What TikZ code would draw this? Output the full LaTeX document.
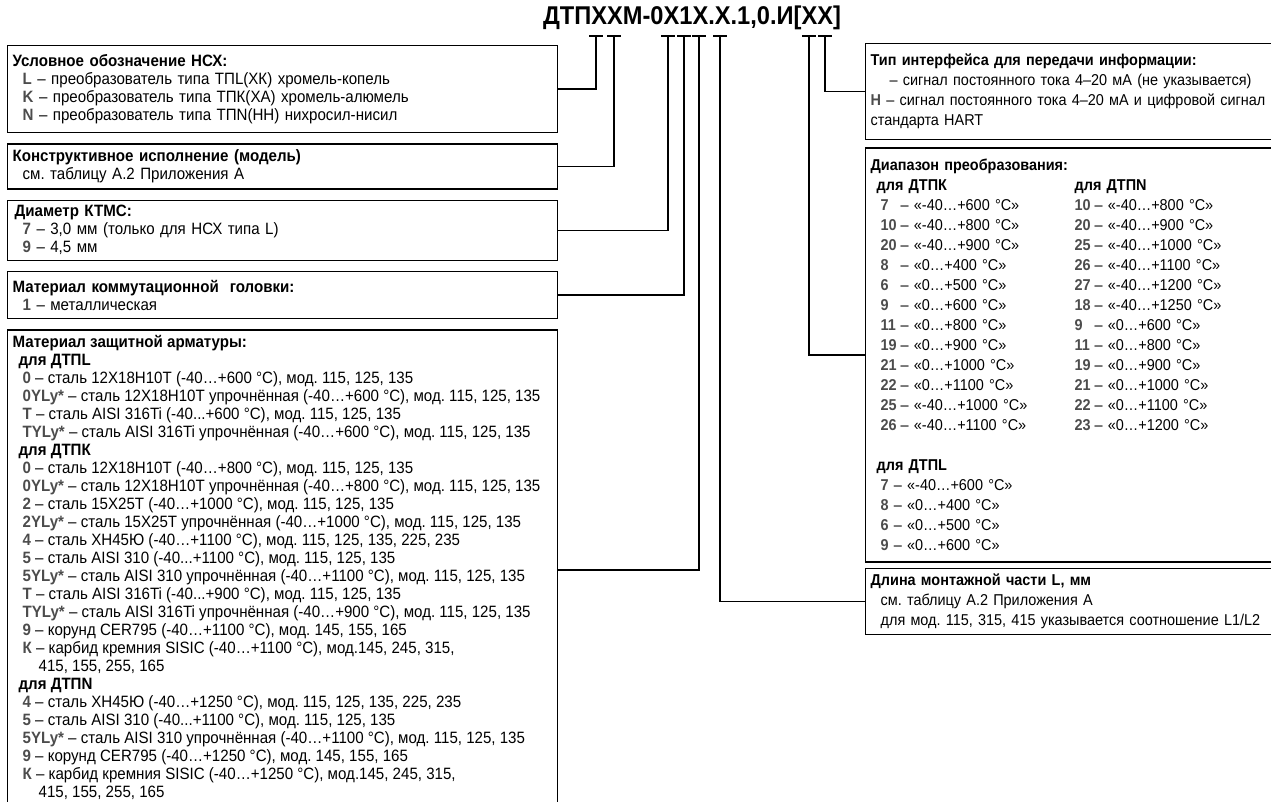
\documentclass[tikz,border=0pt]{standalone}
\usepackage{fontspec}
\setmainfont{Liberation Sans}[FakeStretch=0.92]
\usepackage{xcolor}
\usepackage{tikz}
\usetikzlibrary{positioning}

\frenchspacing
\definecolor{codegray}{gray}{0.3}
\newcommand\lfont{\fontsize{16.4}{18}\selectfont}
\newcommand\rfont{\fontsize{15.7}{20}\selectfont}
\newcommand\cd[1]{\textcolor{codegray}{\textbf{#1}}}
\newcommand\cdn[1]{\makebox[20pt][l]{\cd{#1}}}
\newcommand\ind{\hspace*{10pt}}
\newcommand\grp{\hspace*{6pt}}

\begin{document}
\begin{tikzpicture}[x=1pt, y=-1pt,
  box/.style={draw, line width=1.3pt, anchor=north west, inner xsep=5pt, inner ysep=0pt,
              align=left, text width=#1, font=\lfont},
  box/.default=540pt,
  rbox/.style={box=410pt, font=\rfont},
  wire/.style={line width=1.3pt},
  tick/.style={line width=1.3pt},
]
  \useasboundingbox (0,0) rectangle (1271,802);
  \clip (0,0) rectangle (1271,802);

  \node[font=\bfseries\fontsize{25.7}{28}\selectfont] (code) at (692,18) {ДТПXXM-0X1X.X.1,0.И[XX]};

  \foreach \i/\x in {1/596,2/614,3/668,4/684,5/699,6/720,7/809,8/825} {
    \coordinate (t\i) at (\x,36);
    \draw[tick] ([xshift=-7pt]t\i) -- ([xshift=7pt]t\i);
  }

  % left column
  \node[box, minimum height=87pt] (nsx) at (7,45) {\textbf{Условное обозначение НСХ:}\\
    \ind\cd{L} – преобразователь типа ТПL(ХК) хромель-копель\\
    \ind\cd{K} – преобразователь типа ТПК(ХА) хромель-алюмель\\
    \ind\cd{N} – преобразователь типа ТПN(НН) нихросил-нисил};
  \node[box, minimum height=45pt, below right=10pt and 0pt of nsx.south west] (model)
    {\textbf{Конструктивное исполнение (модель)}\\
    \ind см. таблицу А.2 Приложения А};
  \node[box, minimum height=60pt, below right=10pt and 0pt of model.south west] (dia)
    {\hspace*{2pt}\textbf{Диаметр КТМС:}\\
    \ind\cd{7} – 3,0 мм (только для НСХ типа L)\\
    \ind\cd{9} – 4,5 мм};
  \node[box, minimum height=47pt, below right=10pt and 0pt of dia.south west] (head)
    {\textbf{Материал коммутационной\ \ головки:}\\
    \ind\cd{1} – металлическая};
  \node[draw, line width=1.3pt, anchor=north west, inner sep=5pt, minimum height=480pt,
        font=\lfont, below right=10pt and 0pt of head.south west] (arm)
    {\parbox[t][470pt][t]{540pt}{\raggedright
    \textbf{Материал защитной арматуры:}\\
    \grp\textbf{для ДТПL}\\
    \ind\cd{0} – сталь 12Х18Н10Т (-40…+600 °С), мод. 115, 125, 135\\
    \ind\cd{0YLy*} – сталь 12Х18Н10Т упрочнённая (-40…+600 °С), мод. 115, 125, 135\\
    \ind\cd{T} – сталь AISI 316Ti (-40...+600 °C), мод. 115, 125, 135\\
    \ind\cd{TYLy*} – сталь AISI 316Ti упрочнённая (-40…+600 °C), мод. 115, 125, 135\\
    \grp\textbf{для ДТПК}\\
    \ind\cd{0} – сталь 12Х18Н10Т (-40…+800 °С), мод. 115, 125, 135\\
    \ind\cd{0YLy*} – сталь 12Х18Н10Т упрочнённая (-40…+800 °С), мод. 115, 125, 135\\
    \ind\cd{2} – сталь 15Х25Т (-40…+1000 °С), мод. 115, 125, 135\\
    \ind\cd{2YLy*} – сталь 15Х25Т упрочнённая (-40…+1000 °С), мод. 115, 125, 135\\
    \ind\cd{4} – сталь ХН45Ю (-40…+1100 °С), мод. 115, 125, 135, 225, 235\\
    \ind\cd{5} – сталь AISI 310 (-40...+1100 °C), мод. 115, 125, 135\\
    \ind\cd{5YLy*} – сталь AISI 310 упрочнённая (-40…+1100 °C), мод. 115, 125, 135\\
    \ind\cd{T} – сталь AISI 316Ti (-40...+900 °C), мод. 115, 125, 135\\
    \ind\cd{TYLy*} – сталь AISI 316Ti упрочнённая (-40…+900 °C), мод. 115, 125, 135\\
    \ind\cd{9} – корунд CER795 (-40…+1100 °C), мод. 145, 155, 165\\
    \ind\cd{К} – карбид кремния SISIC (-40…+1100 °C), мод.145, 245, 315,\\
    \hspace*{26pt}415, 155, 255, 165\\
    \grp\textbf{для ДТПN}\\
    \ind\cd{4} – сталь ХН45Ю (-40…+1250 °С), мод. 115, 125, 135, 225, 235\\
    \ind\cd{5} – сталь AISI 310 (-40...+1100 °C), мод. 115, 125, 135\\
    \ind\cd{5YLy*} – сталь AISI 310 упрочнённая (-40…+1100 °C), мод. 115, 125, 135\\
    \ind\cd{9} – корунд CER795 (-40…+1250 °C), мод. 145, 155, 165\\
    \ind\cd{К} – карбид кремния SISIC (-40…+1250 °C), мод.145, 245, 315,\\
    \hspace*{26pt}415, 155, 255, 165}};

  % right column
  \node[rbox, minimum height=96pt] (iface) at (865,43)
    {\textbf{Тип интерфейса для передачи информации:}\\
    \hspace*{19pt}– сигнал постоянного тока 4–20 мА (не указывается)\\
    \cd{H} – сигнал постоянного тока 4–20 мА и цифровой сигнал\\
    стандарта HART};
  \node[rbox, minimum height=414pt, below right=7pt and 0pt of iface.south west] (range)
    {\textbf{Диапазон преобразования:}\\
    \grp\makebox[198pt][l]{\textbf{для ДТПК}}\textbf{для ДТПN}\\
    \ind\makebox[194pt][l]{\cdn{7}– «-40…+600 °C»}\cdn{10}– «-40…+800 °C»\\
    \ind\makebox[194pt][l]{\cdn{10}– «-40…+800 °C»}\cdn{20}– «-40…+900 °C»\\
    \ind\makebox[194pt][l]{\cdn{20}– «-40…+900 °C»}\cdn{25}– «-40…+1000 °C»\\
    \ind\makebox[194pt][l]{\cdn{8}– «0…+400 °C»}\cdn{26}– «-40…+1100 °C»\\
    \ind\makebox[194pt][l]{\cdn{6}– «0…+500 °C»}\cdn{27}– «-40…+1200 °C»\\
    \ind\makebox[194pt][l]{\cdn{9}– «0…+600 °C»}\cdn{18}– «-40…+1250 °C»\\
    \ind\makebox[194pt][l]{\cdn{11}– «0…+800 °C»}\cdn{9}– «0…+600 °C»\\
    \ind\makebox[194pt][l]{\cdn{19}– «0…+900 °C»}\cdn{11}– «0…+800 °C»\\
    \ind\makebox[194pt][l]{\cdn{21}– «0…+1000 °C»}\cdn{19}– «0…+900 °C»\\
    \ind\makebox[194pt][l]{\cdn{22}– «0…+1100 °C»}\cdn{21}– «0…+1000 °C»\\
    \ind\makebox[194pt][l]{\cdn{25}– «-40…+1000 °C»}\cdn{22}– «0…+1100 °C»\\
    \ind\makebox[194pt][l]{\cdn{26}– «-40…+1100 °C»}\cdn{23}– «0…+1200 °C»\\[20pt]
    \grp\textbf{для ДТПL}\\
    \ind\cd{7} – «-40…+600 °C»\\
    \ind\cd{8} – «0…+400 °C»\\
    \ind\cd{6} – «0…+500 °C»\\
    \ind\cd{9} – «0…+600 °C»};
  \node[rbox, minimum height=66pt, below right=5pt and 0pt of range.south west] (len)
    {\textbf{Длина монтажной части L, мм}\\
    \ind см. таблицу А.2 Приложения А\\
    \ind для мод. 115, 315, 415 указывается соотношение L1/L2};

  % connectors
  \draw[wire] (t1) |- (nsx.east);
  \draw[wire] (t2) |- (model.east);
  \draw[wire] (t3) |- (dia.east);
  \draw[wire] (t4) |- (head.east);
  \draw[wire] (t5) |- (arm.east);
  \draw[wire] (t6) |- (len.west);
  \draw[wire] (t7) |- (range.west);
  \draw[wire] (t8) |- (iface.west);
\end{tikzpicture}
\end{document}
